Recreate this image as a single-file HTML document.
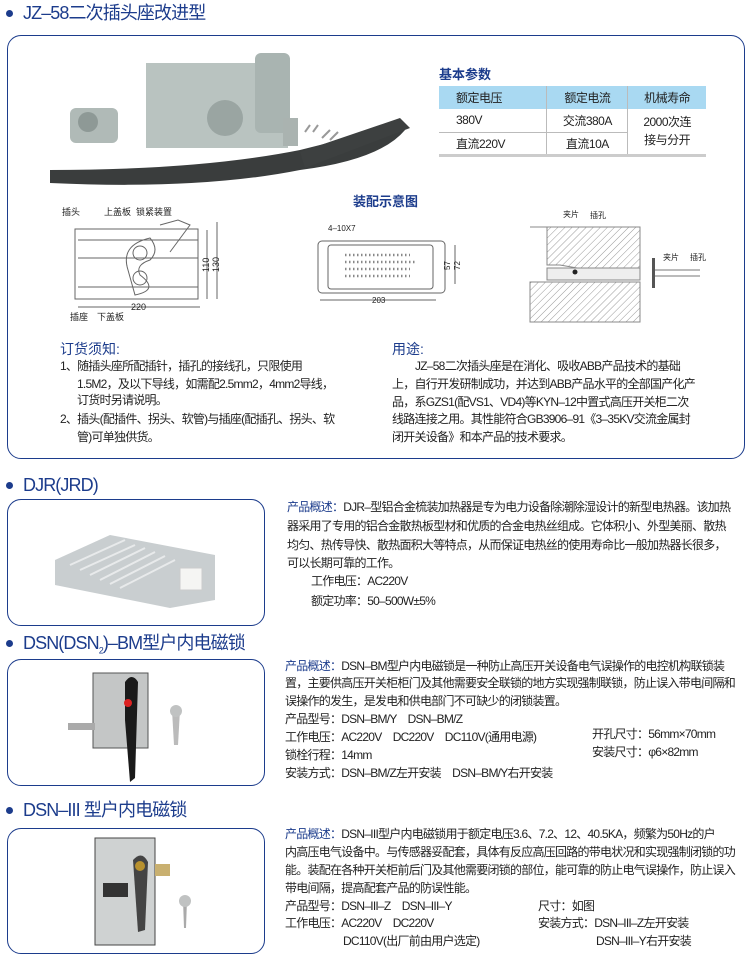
<!DOCTYPE html>
<html><head><meta charset="utf-8"><style>
*{margin:0;padding:0;box-sizing:border-box}
body{width:750px;height:968px;background:#fff;position:relative;overflow:hidden;font-family:"Liberation Sans","Noto Sans CJK SC",sans-serif;color:#222}
.a{position:absolute;white-space:nowrap}
.t{font-size:12px;line-height:14px;letter-spacing:-0.75px}
.h{color:#1c3c8c;font-size:18px;line-height:22px;letter-spacing:-0.9px}
.dot{position:absolute;width:7px;height:7px;border-radius:50%;background:#1c3c8c}
.box{position:absolute;border:1.5px solid #1c3c8c;border-radius:14px}
.b{color:#1c3c8c}
table{position:absolute;left:439px;top:86px;width:267px;border-collapse:collapse;font-size:12px;text-align:center;letter-spacing:-0.5px}
td{border-left:1px solid #bbb;height:23px}
td:first-child{border-left:none;text-align:left;padding-left:17px}
tr.hd td{background:#a9d9f2;height:23px}
tr.r1 td{border-bottom:1px solid #bbb}
tr.r2 td{border-bottom:3px solid #ccc}
</style></head><body>

<div class="dot" style="left:6px;top:10px"></div>
<div class="a h" style="left:23px;top:2px">JZ–58二次插头座改进型</div>
<div class="box" style="left:7px;top:35px;width:738px;height:424px"></div>

<svg class="a" style="left:0;top:0" width="750" height="968">
 <rect x="146" y="63" width="142" height="85" fill="#b9c3c0"/>
 <rect x="255" y="53" width="35" height="80" rx="6" fill="#a9b4b1"/>
 <circle cx="225" cy="118" r="18" fill="#9aa5a2"/>
 <rect x="283" y="118" width="15" height="28" fill="#aab3b0"/>
 <rect x="70" y="108" width="48" height="35" rx="6" fill="#b0bab7"/>
 <circle cx="88" cy="122" r="10" fill="#8e9996"/>
 <path d="M50 170 Q200 170 300 150 Q380 130 400 125 L405 130 Q380 160 300 170 Q200 190 50 183 Z" fill="#3a3d3d"/>
 <path d="M300 152 L400 118 L410 128 L305 168Z" fill="#3d4040"/>
 <g stroke="#999" stroke-width="2"><line x1="305" y1="132" x2="310" y2="125"/><line x1="313" y1="132" x2="318" y2="125"/><line x1="322" y1="138" x2="330" y2="130"/><line x1="330" y1="140" x2="338" y2="132"/></g>
 <g fill="none" stroke="#666" stroke-width="1">
  <rect x="75" y="229" width="123" height="70"/>
  <path d="M78 240 H198 M78 258 H198 M78 287 H198"/>
  <path d="M160 225 L178 220 L190 225 L170 252"/>
  <path d="M128 270 Q120 245 150 238 Q160 250 150 260 Q135 265 140 275 Q160 290 135 295 Z"/>
  <circle cx="140" cy="253" r="7"/><circle cx="140" cy="278" r="7"/>
  <path d="M207 230 V299 M217 222 V299 M78 307 H200"/>
 </g>
 <g font-size="9" fill="#222"><text x="62" y="215">插头</text><text x="104" y="215">上盖板</text><text x="136" y="215">锁紧装置</text><text x="70" y="320">插座</text><text x="97" y="320">下盖板</text><text x="131" y="310">220</text>
 <text transform="translate(209,272) rotate(-90)">110</text><text transform="translate(219,272) rotate(-90)">130</text></g>
 <g fill="none" stroke="#666"><rect x="318" y="241" width="127" height="52" rx="4"/><rect x="328" y="245" width="105" height="44" rx="3"/>
 <path d="M320 300 H436 M455 245 V284"/></g>
 <g stroke="#888" stroke-dasharray="1.5 2.5" stroke-width="2.5"><line x1="345" y1="255" x2="410" y2="255"/><line x1="345" y1="262" x2="415" y2="262"/><line x1="345" y1="269" x2="410" y2="269"/><line x1="345" y1="276" x2="410" y2="276"/></g>
 <g font-size="8" fill="#222"><text x="328" y="231">4–10X7</text><text x="372" y="303">203</text><text transform="translate(450,270) rotate(-90)">57</text><text transform="translate(460,270) rotate(-90)">72</text></g>
 <defs><pattern id="hp" width="5" height="5" patternUnits="userSpaceOnUse" patternTransform="rotate(45)"><line x1="0" y1="0" x2="0" y2="5" stroke="#999" stroke-width="1"/></pattern></defs>
 <path d="M530 227 H640 V268 L600 272 L560 265 L547 265 V227Z" fill="url(#hp)" stroke="#888"/>
 <path d="M530 282 H640 V322 H530Z" fill="url(#hp)" stroke="#888"/>
 <path d="M547 268 H640 L640 280 H547Z" fill="#eee" stroke="#888"/>
 <circle cx="575" cy="272" r="2.5" fill="#222"/>
 <rect x="652" y="258" width="3" height="30" fill="#555"/>
 <path d="M655 270 H700 M655 276 H700" stroke="#777"/>
 <g font-size="8" fill="#222"><text x="563" y="217">夹片</text><text x="590" y="218">插孔</text><text x="663" y="260">夹片</text><text x="690" y="260">插孔</text></g>
 <path d="M55 560 L110 535 L215 555 L215 600 L170 608 L55 585Z" fill="#c9ced0"/>
 <g stroke="#e8eaeb" stroke-width="2"><line x1="70" y1="565" x2="125" y2="540"/><line x1="80" y1="570" x2="135" y2="545"/><line x1="90" y1="575" x2="145" y2="548"/><line x1="100" y1="580" x2="155" y2="552"/><line x1="110" y1="584" x2="165" y2="556"/><line x1="120" y1="588" x2="175" y2="560"/></g>
 <rect x="180" y="568" width="22" height="22" fill="#f5f5f3" stroke="#ccc"/>
 <rect x="93" y="673" width="55" height="75" fill="#c4c6c6" stroke="#555"/>
 <rect x="68" y="723" width="27" height="7" fill="#aaa"/>
 <path d="M125 682 Q132 672 138 682 L135 778 L130 782 L125 720Z" fill="#1a1a1a"/>
 <circle cx="128" cy="703" r="4" fill="#d22"/>
 <path d="M172 710 L180 710 L178 745 L174 745Z" fill="#bbb"/><circle cx="176" cy="711" r="6" fill="#c0c2c2"/>
 <rect x="95" y="838" width="60" height="107" fill="#cfd2d2" stroke="#444"/>
 <rect x="155" y="864" width="15" height="12" fill="#c9b070"/>
 <path d="M133 860 Q142 850 148 862 L145 930 L138 932Z" fill="#444"/>
 <circle cx="140" cy="866" r="5" fill="#b8912e"/>
 <rect x="103" y="883" width="25" height="14" fill="#333"/>
 <path d="M183 900 L187 900 L186 928 L184 928Z" fill="#aaa"/><circle cx="185" cy="901" r="6" fill="#c0c2c2"/>
</svg>

<div class="a b" style="left:439px;top:64px;font-size:13px;font-weight:bold">基本参数</div>
<table>
<tr class="hd"><td>额定电压</td><td>额定电流</td><td>机械寿命</td></tr>
<tr class="r1"><td>380V</td><td>交流380A</td><td rowspan="2" style="border-bottom:3px solid #ccc;line-height:18px">2000次连<br>接与分开</td></tr>
<tr class="r2"><td>直流220V</td><td>直流10A</td></tr>
</table>
<div class="a b" style="left:353px;top:191px;font-size:13px;font-weight:bold">装配示意图</div>

<div class="a b" style="left:60px;top:339px;font-size:14px">订货须知:</div>
<div class="a t" style="left:60px;top:359px">1、随插头座所配插针，插孔的接线孔，只限使用</div>
<div class="a t" style="left:77px;top:377px">1.5M2，及以下导线，如需配2.5mm2，4mm2导线，</div>
<div class="a t" style="left:77px;top:393px">订货时另请说明。</div>
<div class="a t" style="left:60px;top:412px">2、插头(配插件、拐头、软管)与插座(配插孔、拐头、软</div>
<div class="a t" style="left:77px;top:430px">管)可单独供货。</div>

<div class="a b" style="left:392px;top:339px;font-size:14px">用途:</div>
<div class="a t" style="left:415px;top:359px">JZ–58二次插头座是在消化、吸收ABB产品技术的基础</div>
<div class="a t" style="left:392px;top:377px">上，自行开发研制成功，并达到ABB产品水平的全部国产化产</div>
<div class="a t" style="left:392px;top:395px">品，系GZS1(配VS1、VD4)等KYN–12中置式高压开关柜二次</div>
<div class="a t" style="left:392px;top:412px">线路连接之用。其性能符合GB3906–91《3–35KV交流金属封</div>
<div class="a t" style="left:392px;top:430px">闭开关设备》和本产品的技术要求。</div>

<div class="dot" style="left:6px;top:482px"></div>
<div class="a h" style="left:23px;top:474px">DJR(JRD)</div>
<div class="box" style="left:7px;top:499px;width:258px;height:127px"></div>
<div class="a t" style="left:287px;top:500px"><span class="b">产品概述：</span>DJR–型铝合金梳装加热器是专为电力设备除潮除湿设计的新型电热器。该加热</div>
<div class="a t" style="left:287px;top:519px">器采用了专用的铝合金散热板型材和优质的合金电热丝组成。它体积小、外型美丽、散热</div>
<div class="a t" style="left:287px;top:538px">均匀、热传导快、散热面积大等特点，从而保证电热丝的使用寿命比一般加热器长很多，</div>
<div class="a t" style="left:287px;top:556px">可以长期可靠的工作。</div>
<div class="a t" style="left:311px;top:574px">工作电压：AC220V</div>
<div class="a t" style="left:311px;top:594px">额定功率：50–500W±5%</div>

<div class="dot" style="left:6px;top:640px"></div>
<div class="a h" style="left:23px;top:632px">DSN(DSN<sub style="font-size:9px">2</sub>)–BM型户内电磁锁</div>
<div class="box" style="left:7px;top:659px;width:258px;height:127px"></div>
<div class="a t" style="left:285px;top:659px"><span class="b">产品概述：</span>DSN–BM型户内电磁锁是一种防止高压开关设备电气误操作的电控机构联锁装</div>
<div class="a t" style="left:285px;top:676px">置，主要供高压开关柜柜门及其他需要安全联锁的地方实现强制联锁，防止误入带电间隔和</div>
<div class="a t" style="left:285px;top:694px">误操作的发生，是发电和供电部门不可缺少的闭锁装置。</div>
<div class="a t" style="left:285px;top:712px">产品型号：DSN–BM/Y　DSN–BM/Z</div>
<div class="a t" style="left:285px;top:730px">工作电压：AC220V　DC220V　DC110V(通用电源)</div>
<div class="a t" style="left:285px;top:748px">锁栓行程：14mm</div>
<div class="a t" style="left:285px;top:766px">安装方式：DSN–BM/Z左开安装　DSN–BM/Y右开安装</div>
<div class="a t" style="left:592px;top:727px">开孔尺寸：56mm×70mm</div>
<div class="a t" style="left:592px;top:745px">安装尺寸：φ6×82mm</div>

<div class="dot" style="left:6px;top:807px"></div>
<div class="a h" style="left:23px;top:799px">DSN–III 型户内电磁锁</div>
<div class="box" style="left:7px;top:828px;width:258px;height:126px"></div>
<div class="a t" style="left:285px;top:827px"><span class="b">产品概述：</span>DSN–III型户内电磁锁用于额定电压3.6、7.2、12、40.5KA，频繁为50Hz的户</div>
<div class="a t" style="left:285px;top:845px">内高压电气设备中。与传感器妥配套，具体有反应高压回路的带电状况和实现强制闭锁的功</div>
<div class="a t" style="left:285px;top:863px">能。装配在各种开关柜前后门及其他需要闭锁的部位，能可靠的防止电气误操作，防止误入</div>
<div class="a t" style="left:285px;top:881px">带电间隔，提高配套产品的防误性能。</div>
<div class="a t" style="left:285px;top:899px">产品型号：DSN–III–Z　DSN–III–Y</div>
<div class="a t" style="left:285px;top:916px">工作电压：AC220V　DC220V</div>
<div class="a t" style="left:343px;top:934px">DC110V(出厂前由用户选定)</div>
<div class="a t" style="left:538px;top:899px">尺寸：如图</div>
<div class="a t" style="left:538px;top:916px">安装方式：DSN–III–Z左开安装</div>
<div class="a t" style="left:596px;top:934px">DSN–III–Y右开安装</div>
</body></html>
